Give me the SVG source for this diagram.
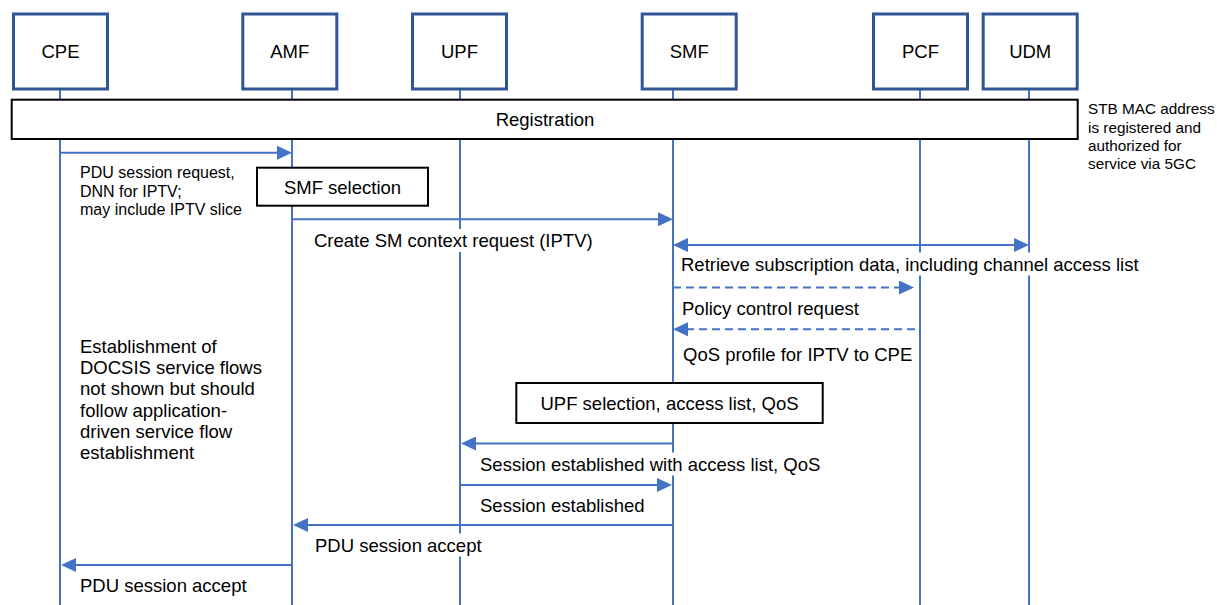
<svg xmlns="http://www.w3.org/2000/svg" width="1217" height="605" viewBox="0 0 1217 605">
<defs>
<style>
.hdr{fill:#fff;stroke:#2F5597;stroke-width:3}
.life{stroke:#4472C4;stroke-width:2}
.box{fill:#fff;stroke:#000;stroke-width:2}
text{font-family:"Liberation Sans",Arial,sans-serif;fill:#000}
.t18{font-size:18.5px}
.t16{font-size:16px}
.t15{font-size:15.3px}
.mid{text-anchor:middle}
.msg{stroke:#4472C4;stroke-width:2;fill:none;marker-end:url(#ah)}
.dash{stroke-dasharray:8 5}
.bg{fill:#fff}
</style>
<marker id="ah" markerUnits="userSpaceOnUse" markerWidth="16" markerHeight="14" viewBox="0 0 16 14" refX="1" refY="7" orient="auto-start-reverse"><path d="M0,0 L15,7 L0,14 z" fill="#4472C4"/></marker>
</defs>
<rect width="1217" height="605" fill="#fff"/>

<g id="CPE"><line class="life" x1="60" y1="89" x2="60" y2="605"/><rect class="hdr" x="13.5" y="14" width="94" height="75"/><text class="t18 mid" x="60.5" y="58">CPE</text></g>
<g id="AMF"><line class="life" x1="292" y1="89" x2="292" y2="605"/><rect class="hdr" x="242.8" y="14" width="94" height="75"/><text class="t18 mid" x="289.8" y="58">AMF</text></g>
<g id="UPF"><line class="life" x1="460" y1="89" x2="460" y2="605"/><rect class="hdr" x="412.5" y="14" width="94" height="75"/><text class="t18 mid" x="459.5" y="58">UPF</text></g>
<g id="SMF"><line class="life" x1="673" y1="89" x2="673" y2="605"/><rect class="hdr" x="642.2" y="14" width="94" height="75"/><text class="t18 mid" x="689.2" y="58">SMF</text></g>
<g id="PCF"><line class="life" x1="920" y1="89" x2="920" y2="605"/><rect class="hdr" x="873.5" y="14" width="94" height="75"/><text class="t18 mid" x="920.5" y="58">PCF</text></g>
<g id="UDM"><line class="life" x1="1029" y1="89" x2="1029" y2="605"/><rect class="hdr" x="983.2" y="14" width="94" height="75"/><text class="t18 mid" x="1030.2" y="58">UDM</text></g>

<g id="registration"><rect class="box" x="11.7" y="99.7" width="1066" height="39.3"/><text class="t18 mid" x="545" y="126">Registration</text></g>
<g id="smf-selection"><rect class="box" x="257" y="167.7" width="171" height="38"/><text class="t18 mid" x="342.5" y="193.5">SMF selection</text></g>
<g id="upf-selection"><rect class="box" x="516.3" y="383" width="306.4" height="40"/><text class="t18 mid" x="669.5" y="409.6">UPF selection, access list, QoS</text></g>

<g id="label-bgs">
<rect class="bg" x="312" y="229" width="284" height="23"/>
<rect class="bg" x="679" y="252.5" width="466" height="23"/>
<rect class="bg" x="478" y="452.5" width="344" height="23"/>
<rect class="bg" x="313" y="533.5" width="170" height="23"/>
</g>

<g id="connectors">
<line class="msg" x1="61" y1="152.7" x2="278" y2="152.7"/>
<line class="msg" x1="292" y1="219.3" x2="659" y2="219.3"/>
<line class="msg" x1="687" y1="245" x2="1015" y2="245" marker-start="url(#ah)"/>
<line class="msg dash" x1="673" y1="287.5" x2="900" y2="287.5"/>
<line class="msg dash" x1="915" y1="329.3" x2="687" y2="329.3"/>
<line class="msg" x1="673" y1="443.5" x2="475" y2="443.5"/>
<line class="msg" x1="460" y1="485" x2="658" y2="485"/>
<line class="msg" x1="673" y1="525" x2="307" y2="525"/>
<line class="msg" x1="292" y1="565" x2="75" y2="565"/>
</g>

<g id="labels">
<text class="t15" x="1088"><tspan x="1088" y="114.3">STB MAC address</tspan><tspan x="1088" y="132.6">is registered and</tspan><tspan x="1088" y="150.9">authorized for</tspan><tspan x="1088" y="169.2">service via 5GC</tspan></text>
<text class="t16"><tspan x="80" y="178.3">PDU session request,</tspan><tspan x="80" y="196.6">DNN for IPTV;</tspan><tspan x="80" y="214.9">may include IPTV slice</tspan></text>
<text class="t18" x="314" y="247">Create SM context request (IPTV)</text>
<text class="t18" x="681" y="270.5">Retrieve subscription data, including channel access list</text>
<text class="t18" x="682" y="314.5">Policy control request</text>
<text class="t18" x="683" y="361">QoS profile for IPTV to CPE</text>
<text class="t18"><tspan x="80" y="353">Establishment of</tspan><tspan x="80" y="374.2">DOCSIS service flows</tspan><tspan x="80" y="395.4">not shown but should</tspan><tspan x="80" y="416.6">follow application-</tspan><tspan x="80" y="437.8">driven service flow</tspan><tspan x="80" y="459">establishment</tspan></text>
<text class="t18" x="480" y="470.5">Session established with access list, QoS</text>
<text class="t18" x="480" y="511.5">Session established</text>
<text class="t18" x="315" y="551.5">PDU session accept</text>
<text class="t18" x="80" y="591.5">PDU session accept</text>
</g>
</svg>
